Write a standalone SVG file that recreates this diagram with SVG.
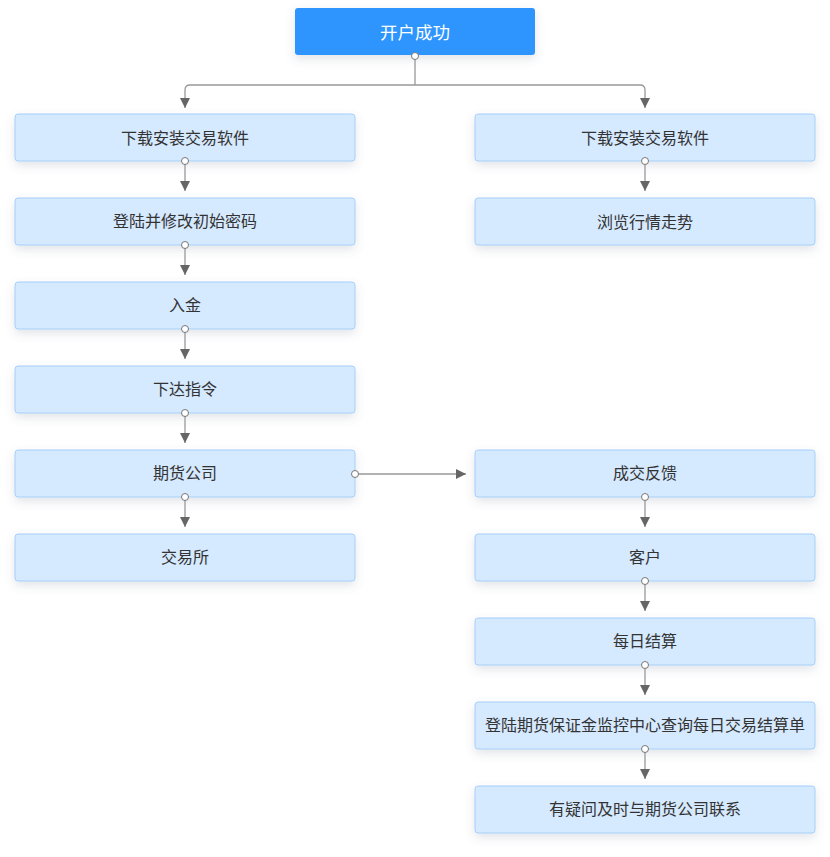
<svg xmlns="http://www.w3.org/2000/svg" width="830" height="857" viewBox="0 0 830 857">
<style>
.n rect{fill:#d5e9ff;stroke:#a6d0fb;stroke-width:1;filter:url(#sh)}
.n text{font-family:"Noto Sans CJK SC","Noto Sans",sans-serif;font-size:16px;fill:#333;text-anchor:middle;dominant-baseline:central}
.top rect{fill:#2e95ff;stroke:none;filter:url(#sh)}
.top text{font-family:"Noto Sans CJK SC","Noto Sans",sans-serif;font-size:17.5px;fill:#fff;text-anchor:middle;dominant-baseline:central}
.c path{fill:none;stroke:#999;stroke-width:1.3}
.c circle{fill:#fff;stroke:#777;stroke-width:1}
</style>
<defs>
<filter id="sh" x="-20%" y="-40%" width="140%" height="200%">
<feDropShadow dx="0" dy="4" stdDeviation="5" flood-color="#5a6a80" flood-opacity="0.18"/>
</filter>
<marker id="ar" viewBox="0 0 10 10" refX="10" refY="5" markerWidth="10" markerHeight="10" markerUnits="userSpaceOnUse" orient="auto">
<path d="M0,0 L10,5 L0,10 z" fill="#666"/>
</marker>
</defs>
<g id="n0" class="top"><rect x="295" y="8" width="240" height="47" rx="3"/><text x="415" y="31">开户成功</text></g>
<g id="l1" class="n"><rect x="15" y="114" width="340" height="47" rx="3"/><text x="185" y="137">下载安装交易软件</text></g>
<g id="l2" class="n"><rect x="15" y="198" width="340" height="47" rx="3"/><text x="185" y="220">登陆并修改初始密码</text></g>
<g id="l3" class="n"><rect x="15" y="282" width="340" height="47" rx="3"/><text x="185" y="304">入金</text></g>
<g id="l4" class="n"><rect x="15" y="366" width="340" height="47" rx="3"/><text x="185" y="388">下达指令</text></g>
<g id="l5" class="n"><rect x="15" y="450" width="340" height="47" rx="3"/><text x="185" y="472">期货公司</text></g>
<g id="l6" class="n"><rect x="15" y="534" width="340" height="47" rx="3"/><text x="185" y="556">交易所</text></g>
<g id="r1" class="n"><rect x="475" y="114" width="340" height="47" rx="3"/><text x="645" y="137">下载安装交易软件</text></g>
<g id="r2" class="n"><rect x="475" y="198" width="340" height="47" rx="3"/><text x="645" y="221">浏览行情走势</text></g>
<g id="r3" class="n"><rect x="475" y="450" width="340" height="47" rx="3"/><text x="645" y="472">成交反馈</text></g>
<g id="r4" class="n"><rect x="475" y="534" width="340" height="47" rx="3"/><text x="645" y="556">客户</text></g>
<g id="r5" class="n"><rect x="475" y="618" width="340" height="47" rx="3"/><text x="645" y="640">每日结算</text></g>
<g id="r6" class="n"><rect x="475" y="702" width="340" height="47" rx="3"/><text x="645" y="724">登陆期货保证金监控中心查询每日交易结算单</text></g>
<g id="r7" class="n"><rect x="475" y="786" width="340" height="47" rx="3"/><text x="645" y="808">有疑问及时与期货公司联系</text></g>
<g id="connectors" class="c">
<path d="M415,56 V85 M415,85 H190 Q185,85 185,90 V108" marker-end="url(#ar)"/>
<path d="M415,85 H640 Q645,85 645,90 V108" marker-end="url(#ar)"/>
<path d="M185,161 V191" marker-end="url(#ar)"/>
<path d="M185,245 V275" marker-end="url(#ar)"/>
<path d="M185,329 V359" marker-end="url(#ar)"/>
<path d="M185,413 V443" marker-end="url(#ar)"/>
<path d="M185,497 V527" marker-end="url(#ar)"/>
<path d="M355,474 L466,474" marker-end="url(#ar)"/>
<path d="M645,161 V191" marker-end="url(#ar)"/>
<path d="M645,497 V527" marker-end="url(#ar)"/>
<path d="M645,581 V611" marker-end="url(#ar)"/>
<path d="M645,665 V695" marker-end="url(#ar)"/>
<path d="M645,749 V779" marker-end="url(#ar)"/>
<circle cx="415" cy="56" r="3.5"/>
<circle cx="185" cy="161" r="3.5"/>
<circle cx="185" cy="245" r="3.5"/>
<circle cx="185" cy="329" r="3.5"/>
<circle cx="185" cy="413" r="3.5"/>
<circle cx="185" cy="497" r="3.5"/>
<circle cx="355" cy="474" r="3.5"/>
<circle cx="645" cy="161" r="3.5"/>
<circle cx="645" cy="497" r="3.5"/>
<circle cx="645" cy="581" r="3.5"/>
<circle cx="645" cy="665" r="3.5"/>
<circle cx="645" cy="749" r="3.5"/>
</g>
</svg>
